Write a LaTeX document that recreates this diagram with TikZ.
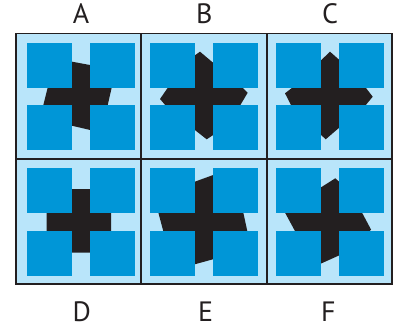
\documentclass[tikz,border=0pt]{standalone}
\usepackage{fontspec}
\setmainfont{PT Sans}
\definecolor{bgblue}{HTML}{B9E5FA}
\definecolor{sqblue}{HTML}{0096D7}
\definecolor{crossblk}{HTML}{231F20}
\definecolor{gridclr}{HTML}{231F20}
\begin{document}
\begin{tikzpicture}[x=1pt,y=-1pt,
  cellbg/.style={fill=bgblue},
  sqbox/.style={fill=sqblue},
  crossshape/.style={fill=crossblk},
  gridline/.style={draw=gridclr,line width=1.9pt},
  lbl/.style={inner sep=0pt,font=\fontsize{28}{30}\selectfont,text=crossblk}]
\useasboundingbox (0,0) rectangle (403,329);
% background
\fill[cellbg] (15.7,33.5) rectangle (391.7,284.3);
% crosses
% A
\fill[crossshape] (71,61.5) -- (91,65.2) -- (91,86.7) -- (111.9,86.7) -- (107.5,106) -- (91,106) -- (91,130.2) -- (71,125.5) -- (71,106) -- (43.1,106) -- (47.9,86.7) -- (71,86.7) -- cycle;
% B
\fill[crossshape] (194,56) -- (200,51.7) -- (214,63.5) -- (214,86.7) -- (241.5,86.7) -- (247.7,92.7) -- (239.8,106) -- (214,106) -- (214,134.5) -- (206.7,139.3) -- (194,129.3) -- (194,106) -- (166,106) -- (160,99) -- (168.5,86.7) -- (194,86.7) -- cycle;
% C
\fill[crossshape] (320,61.3) -- (330,51.7) -- (340,60.5) -- (340,86.7) -- (365,86.7) -- (372.7,96.7) -- (365,106) -- (340,106) -- (340,127) -- (325.7,139.3) -- (320,134) -- (320,106) -- (291.5,106) -- (285,93.3) -- (293.5,86.7) -- (320,86.7) -- cycle;
% D
\fill[crossshape] (71,189) -- (91,189) -- (91,211.7) -- (111,211.7) -- (111,232) -- (91,232) -- (91,252.7) -- (71,252.7) -- (71,232) -- (46.7,232) -- (46.7,211.7) -- (71,211.7) -- cycle;
% E
\fill[crossshape] (194,182) -- (214,174.7) -- (214,211.7) -- (243.1,211.7) -- (247.5,232) -- (214,232) -- (214,259) -- (194,264.5) -- (194,232) -- (163.5,232) -- (158.1,211.7) -- (194,211.7) -- cycle;
% F
\fill[crossshape] (320,188) -- (335.3,178.3) -- (340,182.5) -- (340,211.7) -- (361.5,211.7) -- (371,229.5) -- (369,232) -- (340,232) -- (340,255) -- (320,264) -- (320,232) -- (295.5,232) -- (284.5,211.7) -- (320,211.7) -- cycle;
% squares
\foreach \cx in {26.7,90,150,212.7,276,338.7}{
  \foreach \cy in {42.7,105,167.7,231}{
    \fill[sqbox] (\cx,\cy) rectangle ++(45,45);
  }
}
% grid
\draw[gridline] (15.7,33.5) rectangle (391.7,284.3);
\draw[gridline] (141.2,33.5) -- (141.2,284.3);
\draw[gridline] (266.7,33.5) -- (266.7,284.3);
\draw[gridline] (15.7,159.3) -- (391.7,159.3);
% labels
\node[lbl] (la) at (81,14) {A};
\node[lbl] (lb) at (204.3,14) {B};
\node[lbl] (lc) at (330,14) {C};
\node[lbl] (ld) at (81.7,312) {D};
\node[lbl] (le) at (205.7,312) {E};
\node[lbl] (lf) at (328.3,312) {F};
\end{tikzpicture}
\end{document}
